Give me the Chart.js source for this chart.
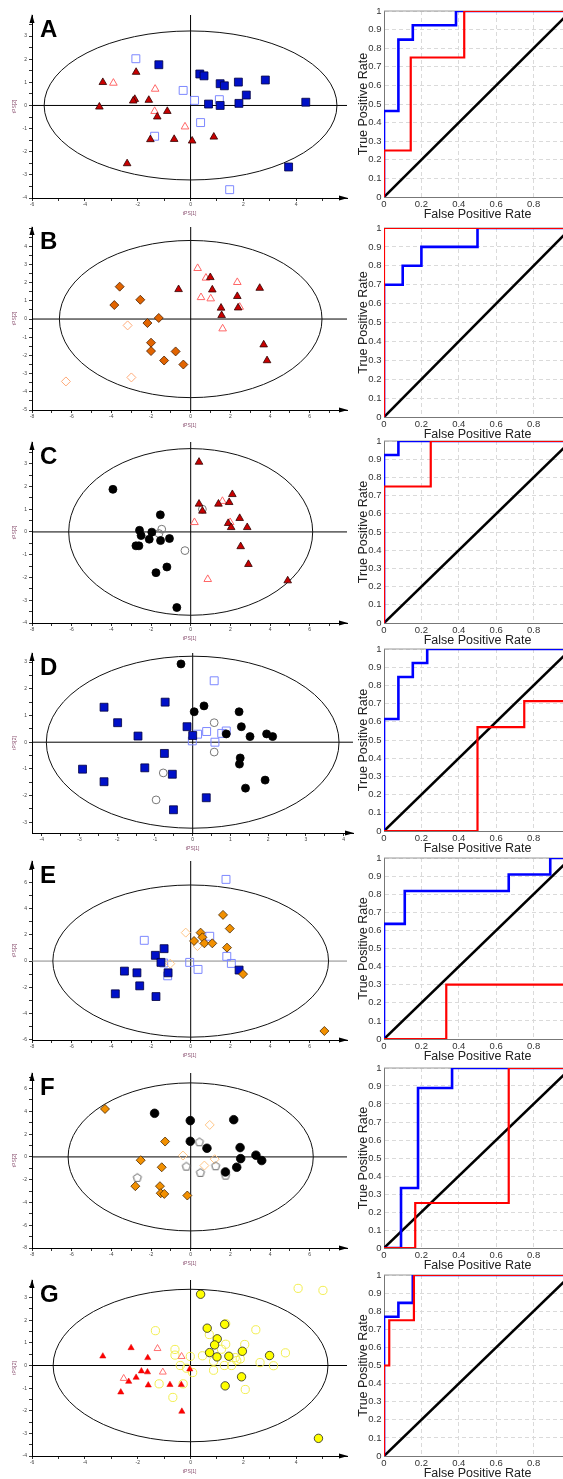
<!DOCTYPE html>
<html>
<head>
<meta charset="utf-8">
<script src="https://cdn.jsdelivr.net/npm/chart.js@4.4.0/dist/chart.umd.min.js"></script>
<style>
html, body { margin: 0; padding: 0; background: #fff; overflow: hidden; width: 563px; height: 1479px; }
canvas { position: absolute; }
</style>
</head>
<body>
<script>
// ---------- score plots: [t1, t2] per sample ----------
const aRedFill = [[-3.32,1.0],[-2.06,1.44],[-3.45,-0.06],[-2.11,0.27],[-2.17,0.2],[-1.58,0.23],[-1.26,-0.49],[-0.88,-0.25],[-1.52,-1.47],[-0.62,-1.46],[0.06,-1.53],[0.88,-1.36],[-2.4,-2.51]];
const aRedOpen = [[-2.92,0.97],[-1.34,0.71],[-1.36,-0.25],[-0.21,-0.92]];
const aBlueFill = [[-1.2,1.76],[0.35,1.36],[0.51,1.28],[1.12,0.94],[1.28,0.85],[1.81,1.01],[2.83,1.1],[2.11,0.45],[0.68,0.06],[1.12,0.0],[1.83,0.09],[4.36,0.14],[3.71,-2.66]];
const aBlueOpen = [[-2.07,2.02],[-0.28,0.65],[0.15,0.22],[1.09,0.25],[0.38,-0.74],[-1.36,-1.33],[1.48,-3.64]];

const bOrangeFill = [[-3.58,1.78],[-3.85,0.77],[-2.54,1.06],[-1.61,0.06],[-2.18,-0.22],[-2.0,-1.3],[-2.0,-1.76],[-1.34,-2.28],[-0.76,-1.78],[-0.37,-2.5]];
const bOrangeOpen = [[-3.18,-0.35],[-2.99,-3.21],[-6.29,-3.43]];
const bRedFill = [[-0.61,1.63],[0.99,2.29],[1.09,1.61],[1.53,0.61],[1.56,0.2],[2.35,1.25],[2.39,0.62],[3.48,1.7],[3.68,-1.41],[3.85,-2.28]];
const bRedOpen = [[0.35,2.79],[0.77,2.26],[0.52,1.19],[1.01,1.12],[2.35,2.02],[2.47,0.66],[1.61,-0.53]];

const cBlackFill = [[-3.92,1.87],[-1.53,0.75],[-2.58,0.07],[-2.5,-0.16],[-1.96,-0.01],[-2.09,-0.32],[-1.52,-0.38],[-1.07,-0.29],[-2.76,-0.61],[-2.61,-0.61],[-1.75,-1.79],[-1.2,-1.54],[-0.7,-3.32]];
const cGrayOpen = [[-1.46,0.12],[-1.6,-0.07],[-0.29,-0.82],[0.59,1.0]];
const cRedFill = [[0.42,3.07],[0.42,1.23],[0.59,0.92],[1.4,1.23],[1.94,1.3],[2.1,1.65],[1.89,0.38],[2.04,0.2],[2.47,0.6],[2.85,0.2],[2.52,-0.64],[2.91,-1.42],[4.89,-2.14]];
const cRedOpen = [[0.19,0.42],[1.6,1.35],[1.99,0.42],[0.86,-2.08]];

const dBlackFill = [[-0.31,2.93],[0.04,1.14],[0.3,1.36],[1.23,1.14],[1.29,0.58],[0.89,0.31],[1.52,0.21],[1.96,0.31],[2.12,0.21],[1.26,-0.59],[1.24,-0.82],[1.92,-1.42],[1.4,-1.72]];
const dGrayOpen = [[0.57,0.73],[0.57,-0.37],[-0.78,-1.15],[-0.97,-2.16]];
const dBlueFill = [[-2.35,1.31],[-1.99,0.73],[-1.45,0.23],[-0.73,1.5],[-0.15,0.58],[0.0,0.25],[-0.75,-0.42],[-1.27,-0.96],[-2.92,-1.01],[-2.35,-1.48],[-0.54,-1.2],[0.36,-2.08],[-0.51,-2.53]];
const dBlueOpen = [[0.57,2.3],[0.13,0.3],[0.37,0.4],[0.77,0.33],[0.89,0.42],[-0.01,0.05],[0.59,0.0]];

const eBlueFill = [[-1.34,0.95],[-1.78,0.44],[-1.5,-0.1],[-1.14,-0.9],[-3.34,-0.77],[-2.71,-0.9],[-2.57,-1.9],[-3.8,-2.51],[-1.75,-2.72],[2.44,-0.69]];
const eBlueOpen = [[-2.34,1.59],[-1.36,-0.15],[-1.16,-1.13],[-0.05,-0.1],[0.37,-0.64],[0.96,1.9],[1.78,6.26],[1.82,0.36],[2.05,-0.18]];
const eAmberFill = [[0.17,1.54],[0.5,2.18],[0.59,1.82],[0.69,1.36],[1.09,1.36],[1.63,3.54],[1.97,2.49],[1.83,1.03],[2.64,-1.0],[6.74,-5.36]];
const eAmberOpen = [[-0.25,2.18],[0.34,1.15],[-1.03,-0.2]];

const fBlackFill = [[-1.82,3.83],[-0.02,3.19],[2.17,3.27],[-0.02,1.37],[0.82,0.76],[2.49,0.82],[2.52,-0.15],[3.29,0.15],[3.58,-0.32],[1.75,-1.32],[2.32,-0.91]];
const fGrayOpen = [[0.44,1.29],[-0.22,-0.85],[0.49,-1.4],[1.26,-0.82],[1.76,-1.64],[-2.69,-1.84]];
const fAmberFill = [[-4.32,4.21],[-1.29,1.35],[-2.52,-0.29],[-1.46,-0.91],[-2.79,-2.57],[-1.55,-2.57],[-1.51,-3.19],[-1.33,-3.25],[-0.17,-3.39]];
const fAmberOpen = [[0.96,2.81],[-0.39,0.12],[1.21,-0.2],[0.69,-0.76]];

const gRedFill = [[-3.32,0.41],[-2.25,0.78],[-1.62,0.34],[-1.86,-0.25],[-1.63,-0.29],[-2.06,-0.53],[-2.34,-0.71],[-2.64,-1.18],[-1.6,-0.87],[-0.78,-0.85],[-0.35,-0.85],[-0.33,-2.03],[-0.03,-0.16]];
const gRedOpen = [[-1.25,0.75],[-0.34,0.4],[-1.05,-0.29],[-2.53,-0.57]];
const gYellowFill = [[0.38,3.15],[0.63,1.65],[1.29,1.82],[1.01,1.18],[0.91,0.91],[0.72,0.57],[1.0,0.38],[1.45,0.41],[1.96,0.63],[2.99,0.44],[1.93,-0.5],[1.31,-0.9],[4.84,-3.22]];
const gYellowOpen = [[-1.33,1.54],[-0.59,0.71],[-0.59,0.46],[-0.39,0.0],[-0.01,0.4],[-0.15,-0.12],[0.08,-0.31],[-0.28,-0.81],[-1.19,-0.81],[-0.67,-1.41],[0.45,0.43],[0.71,1.37],[1.33,1.85],[1.33,0.94],[1.17,0.72],[0.87,0.19],[0.87,-0.21],[1.28,0.0],[1.55,0.0],[1.75,0.22],[1.69,0.35],[1.88,0.29],[2.05,0.93],[2.47,1.58],[2.63,0.13],[3.14,-0.01],[3.59,0.56],[2.07,-1.06],[4.07,3.41],[5.01,3.32]];

// Hotelling ellipse half-axes [t1, t2]
const ellipseA = [5.54, 3.22];
const ellipseB = [6.62, 4.32];
const ellipseC = [6.15, 3.66];
const ellipseD = [3.88, 3.22];
const ellipseE = [6.95, 5.83];
const ellipseF = [6.18, 6.5];
const ellipseG = [5.2, 3.37];

// score plot tick labels
const xLabels6 = [-6, -4, -2, 0, 2, 4];
const xLabels8 = [-8, -6, -4, -2, 0, 2, 4, 6];
const xLabelsD = [-4, -3, -2, -1, 0, 1, 2, 3, 4];
const yLabelsA = [-4, -3, -2, -1, 0, 1, 2, 3];
const yLabelsB = [-5, -4, -3, -2, -1, 0, 1, 2, 3, 4];
const yLabelsD = [-3, -2, -1, 0, 1, 2, 3];
const yLabelsE = [-6, -4, -2, 0, 2, 4, 6];
const yLabelsF = [-8, -6, -4, -2, 0, 2, 4, 6];

// ---------- ROC curves: [false positive rate, true positive rate] ----------
const rocABlue = [[0,0],[0,0.462],[0.077,0.462],[0.077,0.846],[0.154,0.846],[0.154,0.923],[0.385,0.923],[0.385,1],[1,1]];
const rocARed = [[0,0],[0,0.25],[0.143,0.25],[0.143,0.75],[0.429,0.75],[0.429,1],[1,1]];
const rocBBlue = [[0,0],[0,0.7],[0.1,0.7],[0.1,0.8],[0.2,0.8],[0.2,0.9],[0.5,0.9],[0.5,1],[1,1]];
const rocBRed = [[0,0],[0,1],[1,1]];
const rocCBlue = [[0,0],[0,0.923],[0.077,0.923],[0.077,1],[1,1]];
const rocCRed = [[0,0],[0,0.75],[0.25,0.75],[0.25,1],[1,1]];
const rocDBlue = [[0,0],[0,0.615],[0.077,0.615],[0.077,0.846],[0.154,0.846],[0.154,0.923],[0.231,0.923],[0.231,1],[1,1]];
const rocDRed = [[0,0],[0.5,0],[0.5,0.571],[0.75,0.571],[0.75,0.714],[1,0.714]];
const rocEBlue = [[0,0],[0,0.636],[0.111,0.636],[0.111,0.818],[0.667,0.818],[0.667,0.909],[0.889,0.909],[0.889,1],[1,1]];
const rocERed = [[0,0],[0.333,0],[0.333,0.3],[1,0.3]];
const rocFBlue = [[0,0],[0.091,0],[0.091,0.333],[0.182,0.333],[0.182,0.889],[0.364,0.889],[0.364,1],[1,1]];
const rocFRed = [[0,0],[0.167,0],[0.167,0.25],[0.667,0.25],[0.667,1],[1,1]];
const rocGBlue = [[0,0],[0,0.769],[0.077,0.769],[0.077,0.846],[0.154,0.846],[0.154,1],[1,1]];
const rocGRed = [[0,0],[0,0.5],[0.028,0.5],[0.028,0.75],[0.16,0.75],[0.16,1],[1,1]];
const rocChance = [[0,0],[1,1]];
const rocXLabels = [0, 0.2, 0.4, 0.6, 0.8, 1];
const rocYLabels = [0, 0.1, 0.2, 0.3, 0.4, 0.5, 0.6, 0.7, 0.8, 0.9, 1];

Chart.defaults.font.family = '"Liberation Sans", Arial, sans-serif';

function addCanvas(left, top, w, h) {
  const c = document.createElement('canvas');
  c.width = w; c.height = h;
  c.style.left = left + 'px'; c.style.top = top + 'px';
  c.style.width = w + 'px'; c.style.height = h + 'px';
  document.body.appendChild(c);
  return c;
}

function pentagon(r, color) {
  const c = document.createElement('canvas');
  const s = Math.ceil(2 * r + 3);
  c.width = c.height = s;
  const g = c.getContext('2d');
  g.strokeStyle = color; g.lineWidth = 1;
  g.beginPath();
  for (let i = 0; i < 5; i++) {
    const a = -Math.PI / 2 + i * 2 * Math.PI / 5;
    g.lineTo(s / 2 + r * Math.cos(a), s / 2 + r * Math.sin(a));
  }
  g.closePath(); g.stroke();
  return c;
}

const none = 'rgba(0,0,0,0)';
const redTri = {style: 'triangle', r: 4.4, fill: '#c80000', edge: '#300000', bw: 0.8};
const redTriOpen = {style: 'triangle', r: 4.4, fill: none, edge: '#ff6666', bw: 1};
const blueSq = {style: 'rect', r: 5.6, fill: '#0010c8', edge: '#000040', bw: 0.8};
const blueSqOpen = {style: 'rect', r: 5.6, fill: none, edge: '#7d88ff', bw: 1};
const orangeDia = {style: 'rectRot', r: 4.5, fill: '#e26400', edge: '#4a2000', bw: 0.8};
const orangeDiaOpen = {style: 'rectRot', r: 4.5, fill: none, edge: '#ffaa78', bw: 1};
const amberDia = {style: 'rectRot', r: 4.5, fill: '#f29000', edge: '#4a2800', bw: 0.8};
const amberDiaOpen = {style: 'rectRot', r: 4.5, fill: none, edge: '#ffc585', bw: 1};
const blackDot = {style: 'circle', r: 4.0, fill: '#000', edge: '#000', bw: 0.8};
const grayRing = {style: 'circle', r: 3.9, fill: none, edge: '#777', bw: 1};
const grayPenta = {style: pentagon(4.3, '#666'), r: 4.3, fill: none, edge: '#666', bw: 1};
const yellowDot = {style: 'circle', r: 4.2, fill: '#ffff00', edge: '#222', bw: 0.8};
const yellowRing = {style: 'circle', r: 4.1, fill: none, edge: '#f2ee50', bw: 1};
const gRedTri = {style: 'triangle', r: 3.6, fill: '#ff0000', edge: '#e00000', bw: 0.5};
const gRedTriOpen = {style: 'triangle', r: 4.0, fill: none, edge: '#ff7070', bw: 1};

function tickAxis(step, labels, fontSize) {
  return {
    afterBuildTicks: s => {
      const t = [];
      for (let v = Math.ceil(s.min / step - 1e-9) * step; v <= s.max + 1e-9; v += step) t.push({value: Math.round(v * 1000) / 1000});
      s.ticks = t;
    },
    ticks: {
      autoSkip: false, maxRotation: 0, font: {size: fontSize}, color: '#444', padding: 1,
      callback: v => labels.includes(v) ? String(v) : ''
    }
  };
}

function scoreChart(p) {
  const [left, right, top, bottom] = p.box;
  const padTop = 7, padRight = 8, axH = 20;
  const cv = addCanvas(0, top - padTop, right + padRight, bottom - top + padTop + axH);
  const xt = tickAxis(p.xStep, p.xLabels, 5);
  const yt = tickAxis(p.yStep, p.yLabels, 5);
  new Chart(cv, {
    type: 'scatter',
    data: {
      datasets: p.groups.map(g => ({
        data: g[0].map(q => ({x: q[0], y: q[1]})),
        pointStyle: g[1].style, pointRadius: g[1].r, pointHoverRadius: g[1].r,
        backgroundColor: g[1].fill, borderColor: g[1].edge, borderWidth: g[1].bw
      }))
    },
    options: {
      responsive: false, animation: false, events: [],
      layout: {padding: {top: padTop, right: padRight, left: 0, bottom: 0}},
      plugins: {legend: {display: false}, tooltip: {enabled: false}},
      scales: {
        x: {
          type: 'linear', min: p.xr[0], max: p.xr[1],
          afterFit: s => { s.height = axH; },
          afterBuildTicks: xt.afterBuildTicks,
          ticks: Object.assign({}, xt.ticks, {padding: 1}),
          grid: {drawOnChartArea: false, tickLength: 3, color: '#333'},
          border: {color: '#000', width: 1},
          title: {display: true, text: 'tPS[1]', font: {size: 5}, color: '#8a5070', padding: {top: 0, bottom: 1}}
        },
        y: {
          type: 'linear', min: p.yr[0], max: p.yr[1],
          afterFit: s => { s.width = left; },
          afterBuildTicks: yt.afterBuildTicks,
          ticks: Object.assign({}, yt.ticks, {padding: 2}),
          grid: {drawOnChartArea: false, tickLength: 3, color: '#333'},
          border: {color: '#000', width: 1},
          title: {display: true, text: 'tPS[2]', font: {size: 5}, color: '#8a5070', padding: {top: 12, bottom: 0}}
        }
      }
    },
    plugins: [{
      id: 'scoreDecor',
      beforeDatasetsDraw(chart) {
        const {ctx, chartArea: a, scales: {x, y}} = chart;
        const x0 = x.getPixelForValue(0), y0 = y.getPixelForValue(0);
        ctx.save();
        ctx.lineWidth = 1;
        ctx.strokeStyle = '#000';
        ctx.beginPath(); ctx.moveTo(x0, a.bottom); ctx.lineTo(x0, a.top); ctx.stroke();
        ctx.strokeStyle = p.hColor || '#000';
        ctx.beginPath(); ctx.moveTo(a.left, y0); ctx.lineTo(a.right, y0); ctx.stroke();
        const rx = x.getPixelForValue(p.ell[0]) - x0;
        const ry = y0 - y.getPixelForValue(p.ell[1]);
        ctx.strokeStyle = '#111';
        ctx.beginPath(); ctx.ellipse(x0, y0, rx, ry, 0, 0, 2 * Math.PI); ctx.stroke();
        ctx.restore();
      },
      afterDraw(chart) {
        const {ctx, chartArea: a} = chart;
        ctx.save();
        ctx.fillStyle = '#000';
        ctx.beginPath();
        ctx.moveTo(a.left, a.top - 1); ctx.lineTo(a.left - 2.5, a.top + 8); ctx.lineTo(a.left + 2.5, a.top + 8);
        ctx.closePath(); ctx.fill();
        ctx.beginPath();
        ctx.moveTo(a.right + 1, a.bottom); ctx.lineTo(a.right - 8, a.bottom - 2.5); ctx.lineTo(a.right - 8, a.bottom + 2.5);
        ctx.closePath(); ctx.fill();
        ctx.font = 'bold 24px "Liberation Sans", Arial, sans-serif';
        ctx.textBaseline = 'alphabetic';
        ctx.fillText(p.letter, a.left + 8, a.top + 22);
        ctx.restore();
      }
    }]
  });
}

function rocChart(top, bottom, red, blue) {
  const left = 384, right = 571, padTop = 10, padRight = 5, axW = 30, axH = 26;
  const cl = left - axW;
  const cv = addCanvas(cl, top - padTop, right + padRight - cl, bottom - top + padTop + axH);
  const line = (d, color, w) => ({
    data: d.map(q => ({x: q[0], y: q[1]})), showLine: true, borderColor: color, borderWidth: w,
    pointRadius: 0, pointHoverRadius: 0, fill: false, tension: 0
  });
  const grid = {color: '#dadada', drawTicks: false};
  new Chart(cv, {
    type: 'scatter',
    data: {datasets: [line(red, '#ff0000', 2.2), line(blue, '#0000ff', 2.6), line(rocChance, '#000', 2.6)]},
    options: {
      responsive: false, animation: false, events: [],
      layout: {padding: {top: padTop, right: padRight, left: 0, bottom: 0}},
      plugins: {legend: {display: false}, tooltip: {enabled: false}},
      scales: {
        x: {
          type: 'linear', min: 0, max: 1,
          afterFit: s => { s.height = axH; },
          afterBuildTicks: s => { s.ticks = rocXLabels.map(v => ({value: v})); },
          ticks: {autoSkip: false, maxRotation: 0, font: {size: 9.5}, color: '#333', padding: 1.5, callback: v => String(v)},
          grid: grid,
          border: {color: '#777', dash: [4, 3]},
          title: {display: true, text: 'False Positive Rate', font: {size: 12.5}, color: '#222', padding: {top: 0, bottom: 1}}
        },
        y: {
          type: 'linear', min: 0, max: 1,
          afterFit: s => { s.width = axW; },
          afterBuildTicks: s => { s.ticks = rocYLabels.map(v => ({value: v})); },
          ticks: {autoSkip: false, font: {size: 9.5}, color: '#333', padding: 2.5, callback: v => String(v)},
          grid: grid,
          border: {color: '#777', dash: [4, 3]},
          title: {display: true, text: 'True Positive Rate', font: {size: 12.5}, color: '#222', padding: {top: 2, bottom: 0}}
        }
      }
    },
    plugins: [{
      id: 'rocFrame',
      beforeDatasetsDraw(chart) {
        const {ctx, chartArea: a} = chart;
        ctx.save();
        ctx.strokeStyle = '#999'; ctx.lineWidth = 1;
        ctx.beginPath(); ctx.moveTo(a.left, a.top); ctx.lineTo(a.right, a.top); ctx.stroke();
        ctx.restore();
      }
    }]
  });
}

scoreChart({letter: 'A', box: [32, 347, 15, 198], xr: [-6, 5.92], yr: [-4, 3.91], xStep: 1, xLabels: xLabels6, yStep: 0.5, yLabels: yLabelsA, ell: ellipseA,
  groups: [[aBlueFill, blueSq], [aRedFill, redTri], [aBlueOpen, blueSqOpen], [aRedOpen, redTriOpen]]});
scoreChart({letter: 'B', box: [32, 347, 227, 410], xr: [-8, 7.88], yr: [-5, 5.06], xStep: 1, xLabels: xLabels8, yStep: 0.5, yLabels: yLabelsB, ell: ellipseB,
  groups: [[bOrangeFill, orangeDia], [bRedFill, redTri], [bOrangeOpen, orangeDiaOpen], [bRedOpen, redTriOpen]]});
scoreChart({letter: 'C', box: [32, 347, 442, 623], xr: [-8, 7.88], yr: [-4, 3.95], xStep: 1, xLabels: xLabels8, yStep: 0.5, yLabels: yLabelsA, ell: ellipseC,
  groups: [[cBlackFill, blackDot], [cRedFill, redTri], [cGrayOpen, grayRing], [cRedOpen, redTriOpen]]});
scoreChart({letter: 'D', box: [32, 353, 653, 833], xr: [-4.26, 4.25], yr: [-3.4, 3.34], xStep: 0.5, xLabels: xLabelsD, yStep: 0.5, yLabels: yLabelsD, ell: ellipseD,
  groups: [[dBlackFill, blackDot], [dBlueFill, blueSq], [dGrayOpen, grayRing], [dBlueOpen, blueSqOpen]]});
scoreChart({letter: 'E', box: [32, 347, 861, 1040], xr: [-8, 7.88], yr: [-6.05, 7.67], xStep: 1, xLabels: xLabels8, yStep: 1, yLabels: yLabelsE, ell: ellipseE, hColor: '#888',
  groups: [[eAmberFill, amberDia], [eBlueFill, blueSq], [eAmberOpen, amberDiaOpen], [eBlueOpen, blueSqOpen]]});
scoreChart({letter: 'F', box: [32, 347, 1073, 1248], xr: [-8, 7.88], yr: [-8, 7.37], xStep: 1, xLabels: xLabels8, yStep: 1, yLabels: yLabelsF, ell: ellipseF,
  groups: [[fBlackFill, {style: 'circle', r: 4.3, fill: '#000', edge: '#000', bw: 0.8}], [fAmberFill, amberDia], [fGrayOpen, grayPenta], [fAmberOpen, amberDiaOpen]]});
scoreChart({letter: 'G', box: [32, 347, 1280, 1456], xr: [-6, 5.92], yr: [-4, 3.78], xStep: 1, xLabels: xLabels6, yStep: 0.5, yLabels: yLabelsA, ell: ellipseG,
  groups: [[gYellowFill, yellowDot], [gRedFill, gRedTri], [gRedOpen, gRedTriOpen], [gYellowOpen, yellowRing]]});

rocChart(11, 197, rocARed, rocABlue);
rocChart(228, 417, rocBRed, rocBBlue);
rocChart(441, 623, rocCRed, rocCBlue);
rocChart(649, 831, rocDRed, rocDBlue);
rocChart(858, 1039, rocERed, rocEBlue);
rocChart(1068, 1248, rocFRed, rocFBlue);
rocChart(1275, 1456, rocGRed, rocGBlue);
</script>
</body>
</html>
